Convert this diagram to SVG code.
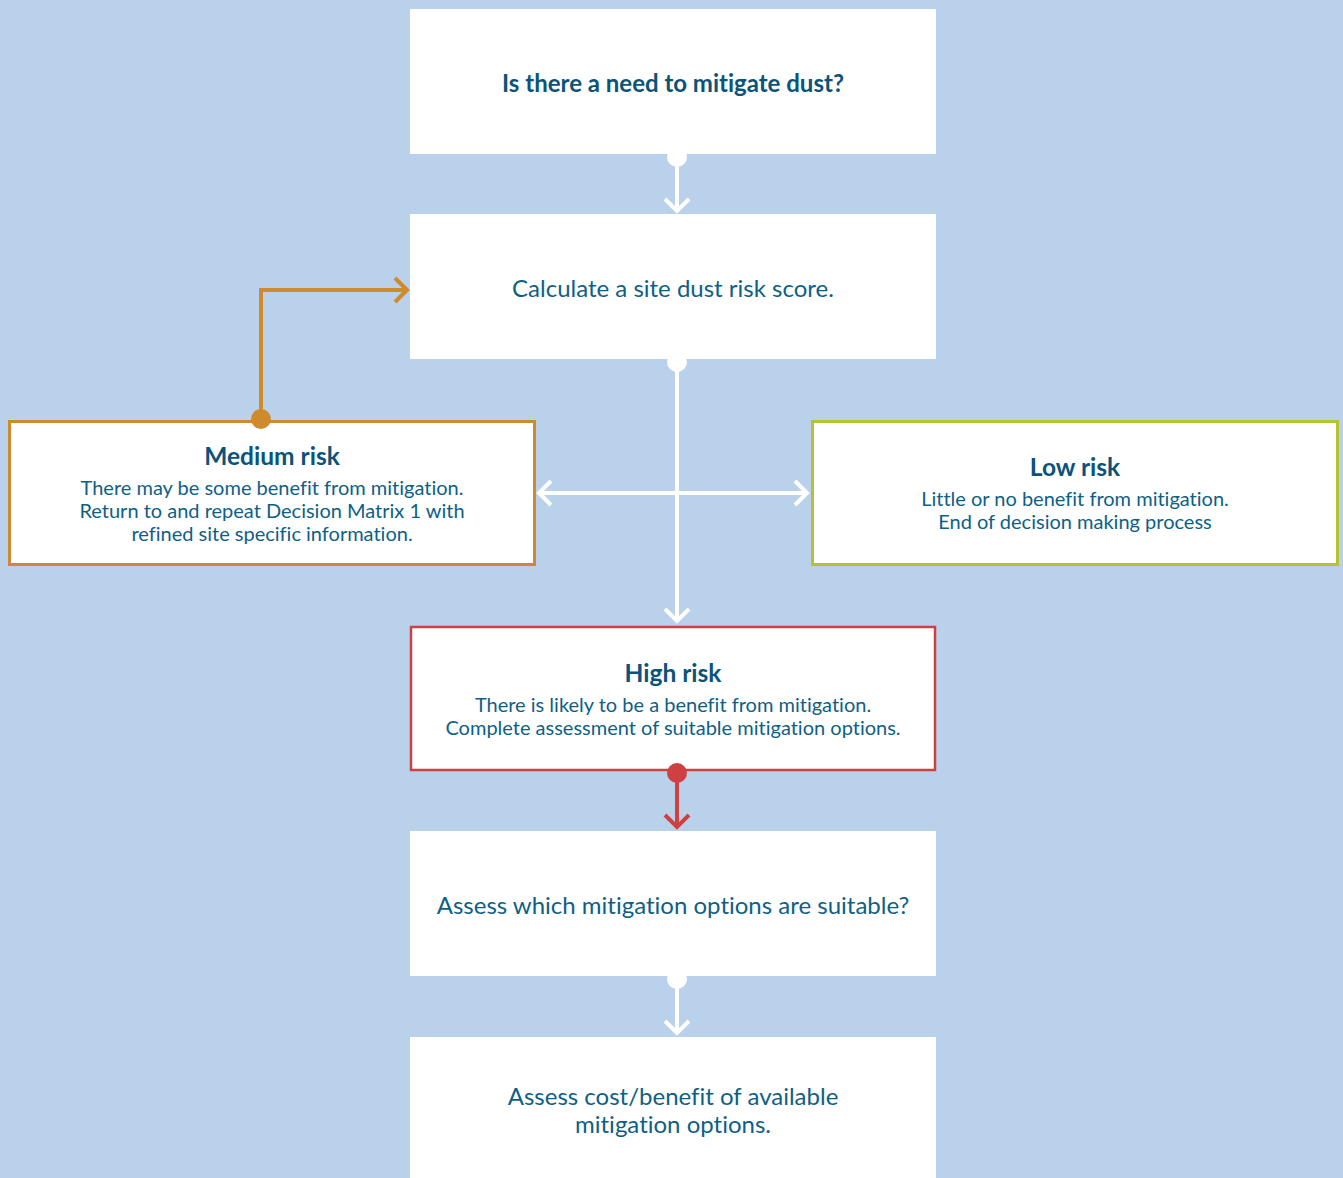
<svg xmlns="http://www.w3.org/2000/svg" width="1343" height="1178" viewBox="0 0 1343 1178">
<style>
.bg{fill:#BAD1EC}
.box{fill:#FFFFFF}
.t{font-family:Lato,"Open Sans",sans-serif;fill:#0E5F86;text-anchor:middle;font-variant-ligatures:none}
.h{font-weight:bold;fill:#0B5379}
.w{stroke:#FFFFFF;stroke-width:4;fill:none}
.o{stroke:#D08A2E;stroke-width:4;fill:none}
.r{stroke:#CF4040;stroke-width:4;fill:none}
</style>
<rect class="bg" x="0" y="0" width="1343" height="1178"/>
<g id="n1">
<rect class="box" x="410" y="9" width="526" height="145"/>
<text class="t h" x="673" y="92" font-size="24">Is there a need to mitigate dust?</text>
</g>
<g id="n2">
<rect class="box" x="410" y="214" width="526" height="145"/>
<text class="t" x="673" y="297" font-size="24">Calculate a site dust risk score.</text>
</g>
<g id="n3">
<rect class="box" x="9.5" y="421.5" width="525" height="143" stroke="#D08A2E" stroke-width="3"/>
<text class="t h" x="272" y="465" font-size="24.5">Medium risk</text>
<text class="t" x="272" y="495" font-size="20">There may be some benefit from mitigation.</text>
<text class="t" x="272" y="518" font-size="20">Return to and repeat Decision Matrix 1 with</text>
<text class="t" x="272" y="541" font-size="20">refined site specific information.</text>
</g>
<g id="n4">
<rect class="box" x="812.5" y="421.5" width="525" height="143" stroke="#B3C332" stroke-width="3"/>
<text class="t h" x="1075" y="476" font-size="24.5">Low risk</text>
<text class="t" x="1075" y="506" font-size="20">Little or no benefit from mitigation.</text>
<text class="t" x="1075" y="529" font-size="20">End of decision making process</text>
</g>
<g id="n5">
<rect class="box" x="411" y="627" width="524" height="143" stroke="#CF4040" stroke-width="2.5"/>
<text class="t h" x="673" y="682" font-size="24.5">High risk</text>
<text class="t" x="673" y="712" font-size="20">There is likely to be a benefit from mitigation.</text>
<text class="t" x="673" y="735" font-size="20">Complete assessment of suitable mitigation options.</text>
</g>
<g id="n6">
<rect class="box" x="410" y="831" width="526" height="145"/>
<text class="t" x="673" y="914" font-size="24">Assess which mitigation options are suitable?</text>
</g>
<g id="n7">
<rect class="box" x="410" y="1037" width="526" height="145"/>
<text class="t" x="673" y="1105" font-size="24">Assess cost/benefit of available</text>
<text class="t" x="673" y="1133" font-size="24">mitigation options.</text>
</g>
<g id="connectors">
<circle cx="677" cy="157" r="10" fill="#FFFFFF"/>
<path class="w" d="M677 157 V210 M665 199 L677 211 L689 199"/>
<circle cx="677" cy="362" r="10" fill="#FFFFFF"/>
<path class="w" d="M677 362 V620 M665 609 L677 621 L689 609"/>
<path class="w" d="M539 493 H807 M551 481 L539 493 L551 505 M795 481 L807 493 L795 505"/>
<circle cx="261" cy="419" r="10" fill="#D08A2E"/>
<path class="o" d="M261 419 V290 H406 M395 278 L407 290 L395 302"/>
<circle cx="677" cy="773" r="10" fill="#CF4040"/>
<path class="r" d="M677 773 V826 M665 815 L677 827 L689 815"/>
<circle cx="677" cy="979" r="10" fill="#FFFFFF"/>
<path class="w" d="M677 979 V1032 M665 1021 L677 1033 L689 1021"/>
</g>
</svg>
